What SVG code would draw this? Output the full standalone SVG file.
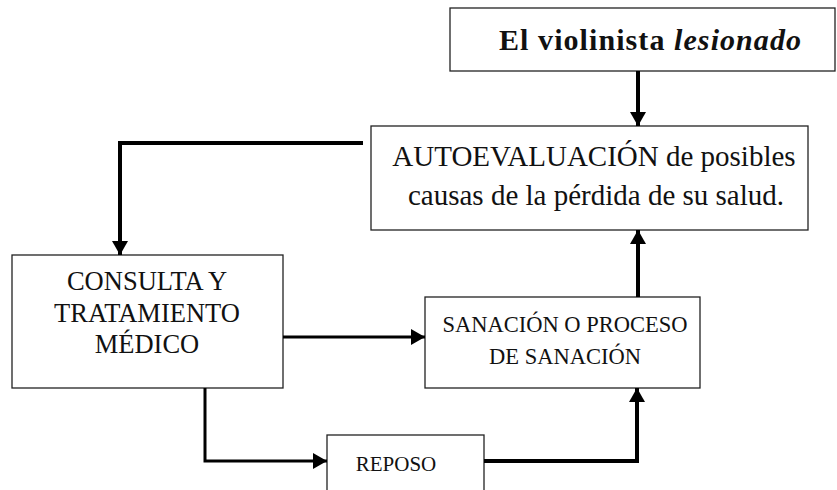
<svg xmlns="http://www.w3.org/2000/svg" width="837" height="490" viewBox="0 0 837 490">
<style>
.box{fill:#fff;stroke:#222;stroke-width:1.3}
.t{font-family:"Liberation Serif","Times New Roman",serif;fill:#111;text-anchor:middle}
.c{fill:none;stroke:#000;stroke-linecap:butt;stroke-linejoin:miter}
</style>
<defs>
<marker id="ah" markerUnits="userSpaceOnUse" markerWidth="14" markerHeight="16" viewBox="0 0 14 16" refX="14" refY="8" orient="auto">
<path d="M0,0 L14,8 L0,16 Z" fill="#000"/>
</marker>
</defs>
<rect width="837" height="490" fill="#fff"/>
<g id="n-violinista">
<rect class="box" x="450" y="8" width="385" height="63"/>
<text class="t" x="650" y="50" font-size="30" font-weight="bold" textLength="302" lengthAdjust="spacing">El violinista <tspan font-style="italic">lesionado</tspan></text>
</g>
<g id="n-autoevaluacion">
<rect class="box" x="371" y="126" width="437" height="104"/>
<text class="t" x="594" y="166" font-size="29">AUTOEVALUACIÓN de posibles</text>
<text class="t" x="596" y="205" font-size="29">causas de la pérdida de su salud.</text>
</g>
<g id="n-consulta">
<rect class="box" x="12" y="255" width="271" height="133"/>
<text class="t" x="147" y="290" font-size="26.5">CONSULTA Y</text>
<text class="t" x="147" y="322" font-size="26.5">TRATAMIENTO</text>
<text class="t" x="147" y="353" font-size="26.5">MÉDICO</text>
</g>
<g id="n-sanacion">
<rect class="box" x="425" y="297" width="275" height="91"/>
<text class="t" x="565" y="332" font-size="22.5">SANACIÓN O PROCESO</text>
<text class="t" x="565" y="364" font-size="22.5">DE SANACIÓN</text>
</g>
<g id="n-reposo">
<rect class="box" x="327" y="435" width="157" height="70"/>
<text class="t" x="396" y="471" font-size="21">REPOSO</text>
</g>
<g id="connectors">
<path class="c" d="M638,71 V126" stroke-width="4" marker-end="url(#ah)"/>
<path class="c" d="M363,143 H120 V255" stroke-width="4" marker-end="url(#ah)"/>
<path class="c" d="M283,337 H425" stroke-width="3" marker-end="url(#ah)"/>
<path class="c" d="M205,388 V461 H327" stroke-width="3" marker-end="url(#ah)"/>
<path class="c" d="M484,461 H637 V388" stroke-width="4" marker-end="url(#ah)"/>
<path class="c" d="M638,297 V230" stroke-width="4" marker-end="url(#ah)"/>
</g>
</svg>
